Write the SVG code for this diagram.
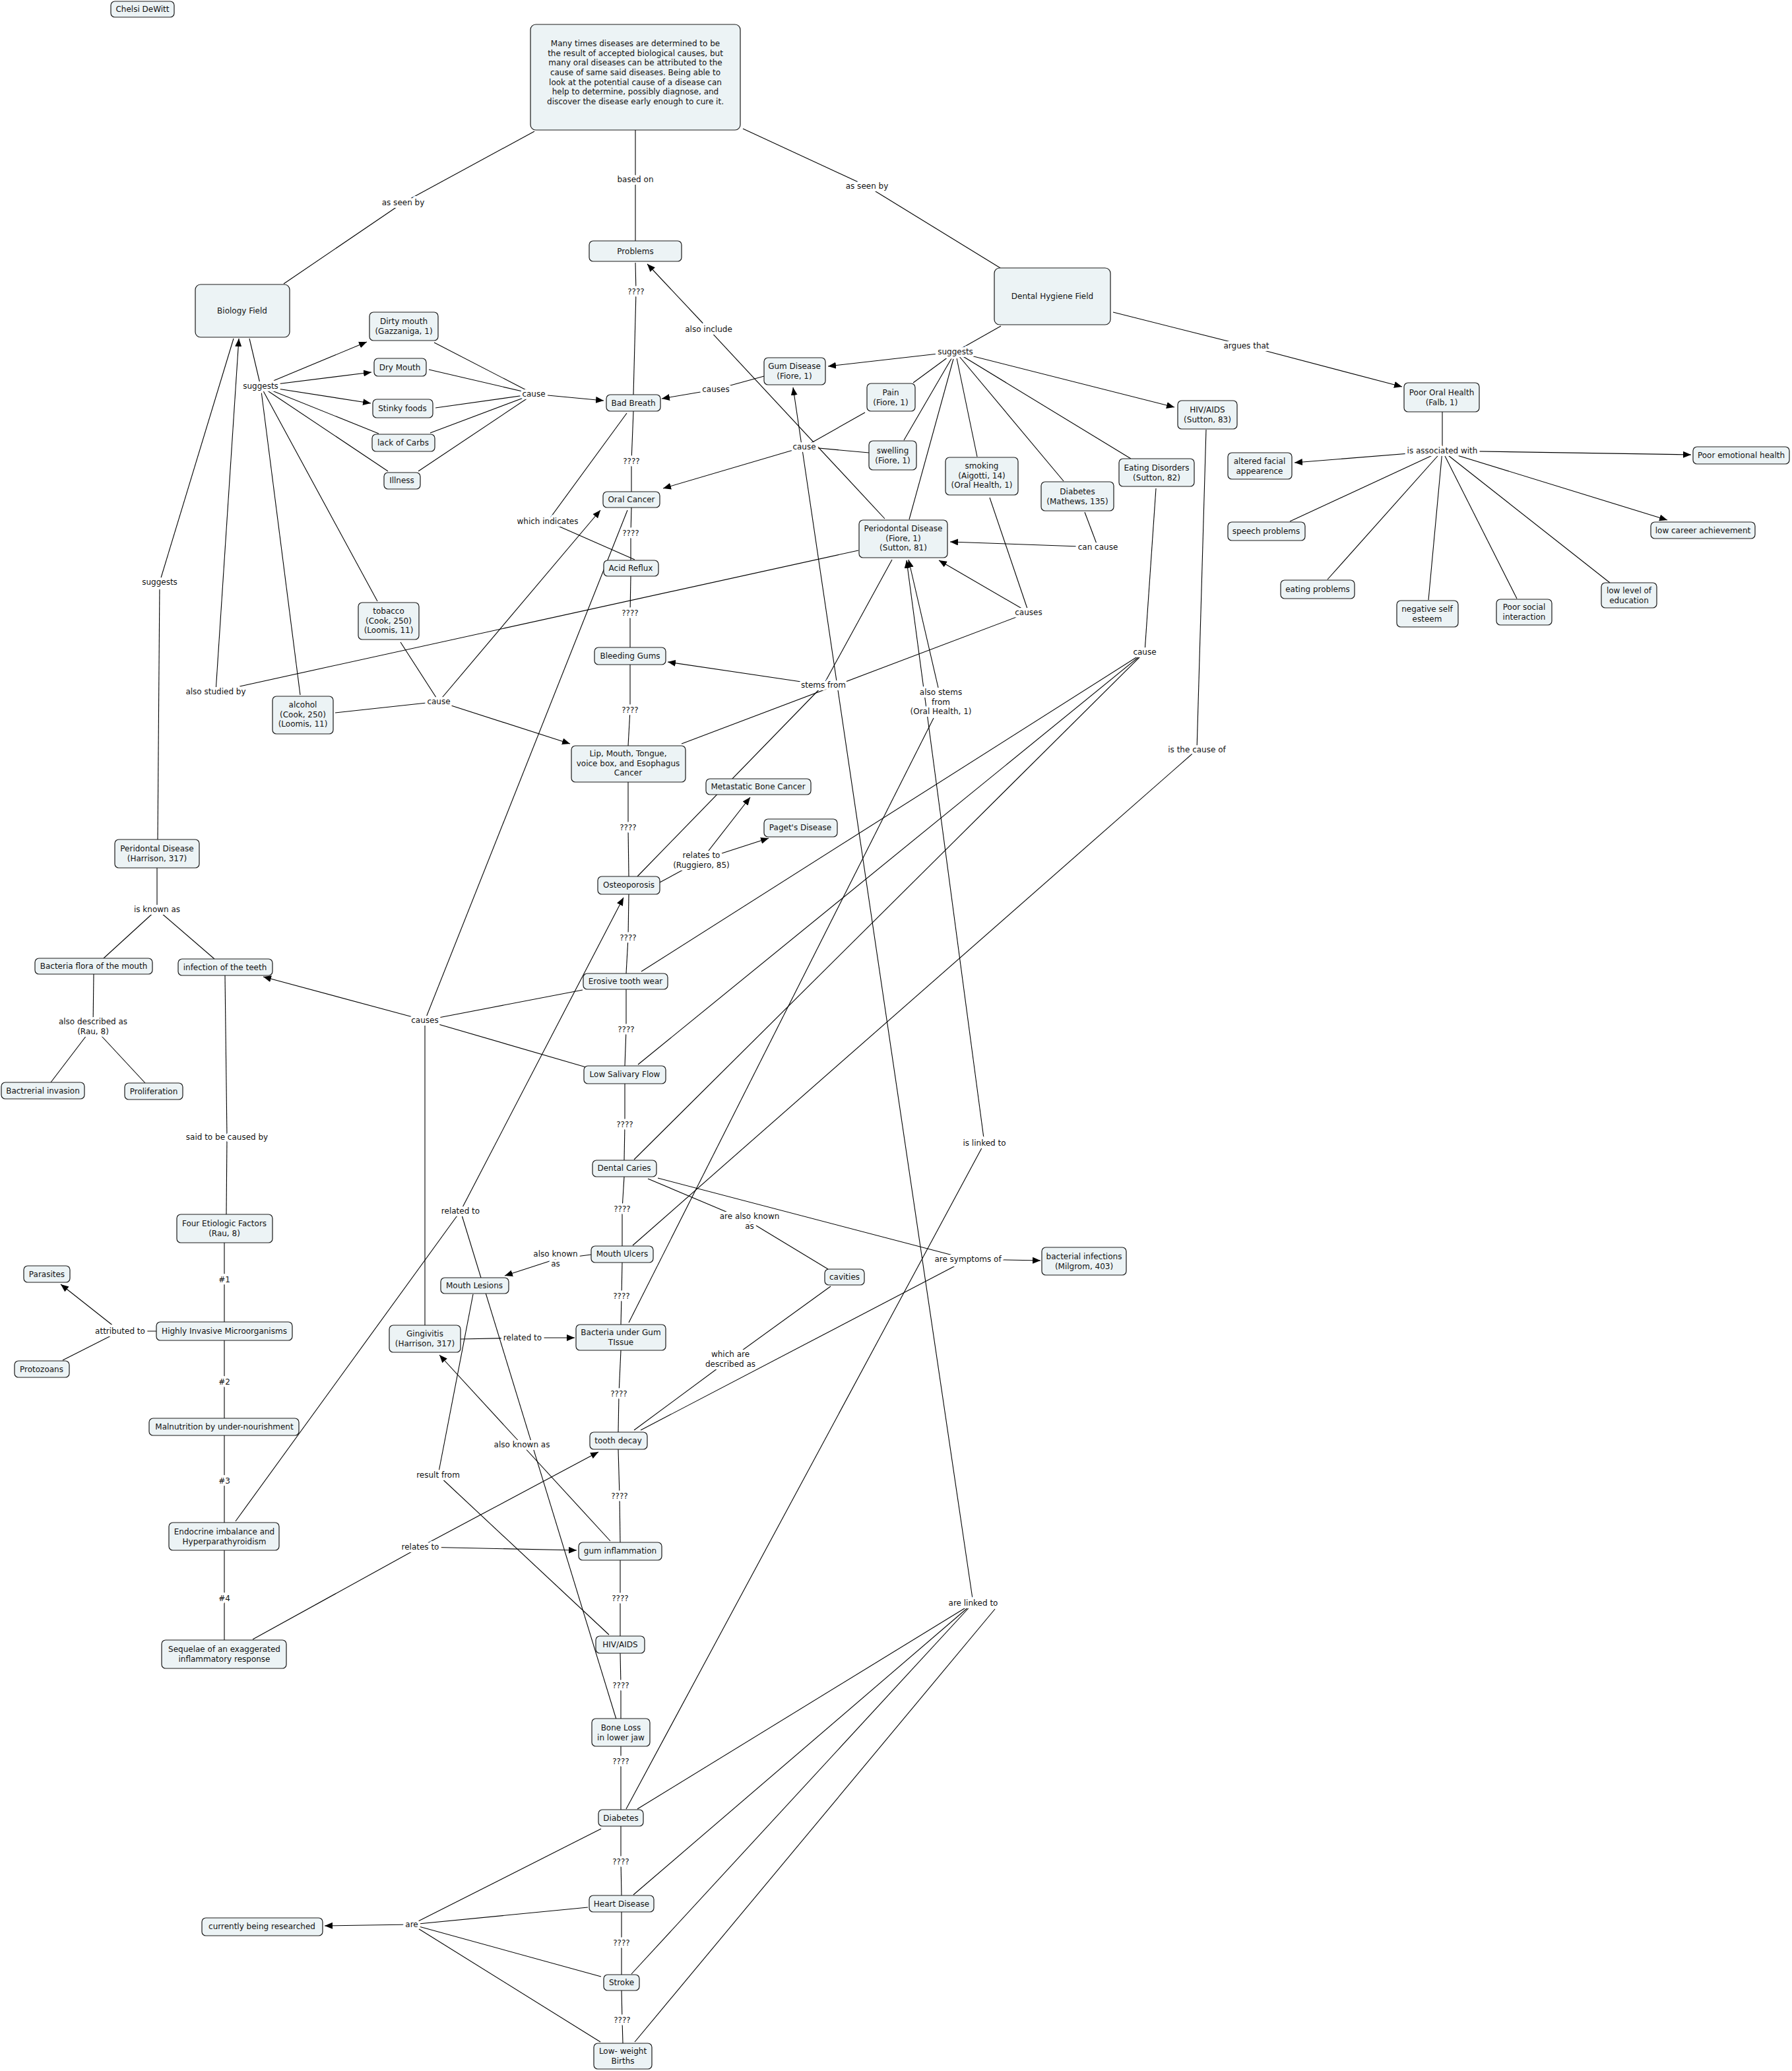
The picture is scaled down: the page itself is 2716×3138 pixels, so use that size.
<svg xmlns="http://www.w3.org/2000/svg" width="2716" height="3138" viewBox="0 0 2716 3138">
<defs>
<style>
.bg{fill:#ffffff}
.n rect{fill:#ecf3f5;stroke:#1a1a1a;stroke-width:1.2}
text{font-family:"DejaVu Sans",Verdana,"Liberation Sans",sans-serif;font-size:12px;fill:#111;text-anchor:middle}
.lbl text{paint-order:stroke;stroke:#fff;stroke-width:8px;stroke-linejoin:round}
.c path{stroke:#000;stroke-width:1.1;fill:none}
.c path.a{marker-end:url(#arr)}
</style>
<marker id="arr" viewBox="0 0 12 10" refX="12" refY="5" markerWidth="12" markerHeight="10" markerUnits="userSpaceOnUse" orient="auto">
<path d="M0,0 L12,5 L0,10 z" fill="#000"/>
</marker>
</defs>
<rect class="bg" x="0" y="0" width="2716" height="3138"/>
<g id="connectors" class="c">
<path d="M810,199 L611,307"/>
<path d="M611,307 L430,430"/>
<path d="M963,197 L963,272"/>
<path d="M963,272 L963,365"/>
<path d="M1126,195 L1314,282"/>
<path d="M1314,282 L1516,406"/>
<path d="M378,513 L395,585"/>
<path d="M395,585 L574,657"/>
<path d="M395,585 L588,714"/>
<path d="M395,585 L572,911"/>
<path d="M395,585 L455,1053"/>
<path d="M658,519 L809,597"/>
<path d="M650,560 L809,597"/>
<path d="M660,618 L809,597"/>
<path d="M652,656 L809,597"/>
<path d="M634,714 L809,597"/>
<path d="M963,398 L964,442"/>
<path d="M964,442 L960,598"/>
<path d="M1158,570 L1085,590"/>
<path d="M1341,786 L1074,499"/>
<path d="M1517,494 L1448,533"/>
<path d="M1448,533 L1384,580"/>
<path d="M1448,533 L1370,667"/>
<path d="M1448,533 L1378,787"/>
<path d="M1448,533 L1481,692"/>
<path d="M1448,533 L1612,729"/>
<path d="M1448,533 L1714,695"/>
<path d="M1687,473 L1889,524"/>
<path d="M2186,624 L2186,683"/>
<path d="M2186,683 L1955,790"/>
<path d="M2186,683 L2012,878"/>
<path d="M2186,683 L2165,909"/>
<path d="M2186,683 L2299,907"/>
<path d="M2186,683 L2440,883"/>
<path d="M1311,625 L1219,677"/>
<path d="M1317,686 L1219,677"/>
<path d="M960,623 L957,699"/>
<path d="M957,699 L957,745"/>
<path d="M950,626 L830,790"/>
<path d="M830,790 L962,848"/>
<path d="M957,769 L956,808"/>
<path d="M956,808 L956,849"/>
<path d="M1644,776 L1664,829"/>
<path d="M1500,754 L1559,928"/>
<path d="M1559,928 L1033,1127"/>
<path d="M956,873 L955,929"/>
<path d="M955,929 L955,981"/>
<path d="M1752,740 L1735,988"/>
<path d="M1735,988 L972,1472"/>
<path d="M1735,988 L967,1613"/>
<path d="M1735,988 L961,1757"/>
<path d="M1352,848 L1248,1038"/>
<path d="M966,1328 L1248,1038"/>
<path d="M953,2004 L1415,1088"/>
<path d="M949,2741 L1492,1732"/>
<path d="M955,1007 L955,1076"/>
<path d="M955,1076 L952,1130"/>
<path d="M354,513 L242,882"/>
<path d="M242,882 L239,1272"/>
<path d="M1301,834 L327,1048"/>
<path d="M607,973 L665,1063"/>
<path d="M508,1080 L665,1063"/>
<path d="M1828,651 L1814,1136"/>
<path d="M1814,1136 L959,1887"/>
<path d="M952,1185 L952,1254"/>
<path d="M952,1254 L953,1328"/>
<path d="M1000,1337 L1063,1303"/>
<path d="M238,1315 L238,1378"/>
<path d="M238,1378 L157,1452"/>
<path d="M238,1378 L325,1453"/>
<path d="M953,1355 L952,1421"/>
<path d="M952,1421 L949,1475"/>
<path d="M883,1500 L644,1546"/>
<path d="M888,1617 L644,1546"/>
<path d="M951,773 L644,1546"/>
<path d="M644,1546 L644,2008"/>
<path d="M142,1476 L141,1556"/>
<path d="M141,1556 L77,1640"/>
<path d="M141,1556 L220,1641"/>
<path d="M949,1499 L949,1560"/>
<path d="M949,1560 L947,1615"/>
<path d="M947,1642 L947,1704"/>
<path d="M947,1704 L946,1758"/>
<path d="M341,1478 L344,1723"/>
<path d="M344,1723 L343,1840"/>
<path d="M357,2305 L698,1835"/>
<path d="M698,1835 L934,2605"/>
<path d="M946,1783 L943,1832"/>
<path d="M943,1832 L943,1888"/>
<path d="M982,1786 L1136,1851"/>
<path d="M1136,1851 L1255,1923"/>
<path d="M997,1785 L1467,1908"/>
<path d="M971,2167 L1467,1908"/>
<path d="M896,1901 L842,1908"/>
<path d="M340,1883 L340,1939"/>
<path d="M340,1939 L340,2003"/>
<path d="M943,1913 L942,1964"/>
<path d="M942,1964 L941,2007"/>
<path d="M237,2017 L182,2017"/>
<path d="M182,2017 L95,2061"/>
<path d="M698,2029 L792,2027"/>
<path d="M1259,1949 L1107,2059"/>
<path d="M1107,2059 L961,2167"/>
<path d="M340,2031 L340,2094"/>
<path d="M340,2094 L340,2149"/>
<path d="M941,2046 L938,2112"/>
<path d="M938,2112 L937,2170"/>
<path d="M925,2335 L791,2189"/>
<path d="M717,1961 L664,2235"/>
<path d="M664,2235 L923,2477"/>
<path d="M340,2175 L340,2244"/>
<path d="M340,2244 L340,2307"/>
<path d="M937,2196 L939,2267"/>
<path d="M939,2267 L940,2337"/>
<path d="M383,2484 L637,2344"/>
<path d="M340,2349 L340,2422"/>
<path d="M340,2422 L340,2485"/>
<path d="M940,2364 L940,2422"/>
<path d="M940,2422 L940,2479"/>
<path d="M966,2741 L1475,2429"/>
<path d="M960,2871 L1475,2429"/>
<path d="M957,2991 L1475,2429"/>
<path d="M962,3094 L1508,2438"/>
<path d="M940,2505 L941,2554"/>
<path d="M941,2554 L941,2604"/>
<path d="M941,2646 L941,2669"/>
<path d="M941,2669 L941,2742"/>
<path d="M941,2767 L941,2821"/>
<path d="M941,2821 L942,2872"/>
<path d="M911,2771 L624,2916"/>
<path d="M891,2890 L624,2916"/>
<path d="M911,2995 L624,2916"/>
<path d="M910,3094 L624,2916"/>
<path d="M942,2897 L942,2944"/>
<path d="M942,2944 L942,2992"/>
<path d="M942,3016 L943,3061"/>
<path d="M943,3061 L944,3096"/>
<path class="a" d="M395,585 L556,518"/>
<path class="a" d="M395,585 L563,564"/>
<path class="a" d="M395,585 L562,611"/>
<path class="a" d="M809,597 L915,607"/>
<path class="a" d="M1085,590 L1003,604"/>
<path class="a" d="M1074,499 L981,400"/>
<path class="a" d="M1448,533 L1255,555"/>
<path class="a" d="M1448,533 L1780,617"/>
<path class="a" d="M1889,524 L2125,586"/>
<path class="a" d="M2186,683 L1962,701"/>
<path class="a" d="M2186,683 L2563,689"/>
<path class="a" d="M2186,683 L2527,788"/>
<path class="a" d="M1219,677 L1005,740"/>
<path class="a" d="M1664,829 L1440,821"/>
<path class="a" d="M1559,928 L1423,849"/>
<path class="a" d="M1248,1038 L1012,1003"/>
<path class="a" d="M1422,1042 L1377,848"/>
<path class="a" d="M1492,1732 L1374,849"/>
<path class="a" d="M327,1048 L362,513"/>
<path class="a" d="M665,1063 L910,773"/>
<path class="a" d="M665,1063 L864,1127"/>
<path class="a" d="M1063,1303 L1137,1208"/>
<path class="a" d="M1063,1303 L1165,1270"/>
<path class="a" d="M644,1546 L399,1480"/>
<path class="a" d="M698,1835 L945,1360"/>
<path class="a" d="M1467,1908 L1577,1910"/>
<path class="a" d="M842,1908 L765,1933"/>
<path class="a" d="M182,2017 L92,1946"/>
<path class="a" d="M792,2027 L871,2027"/>
<path class="a" d="M791,2189 L666,2053"/>
<path class="a" d="M637,2344 L907,2200"/>
<path class="a" d="M637,2344 L874,2349"/>
<path class="a" d="M1475,2429 L1202,587"/>
<path class="a" d="M624,2916 L492,2918"/>
</g>
<g id="labels" class="lbl">
<text x="611" y="311">as seen by</text>
<text x="963" y="276">based on</text>
<text x="1314" y="286">as seen by</text>
<text x="964" y="446">????</text>
<text x="395" y="589">suggests</text>
<text x="809" y="601">cause</text>
<text x="1085" y="594">causes</text>
<text x="1074" y="503">also include</text>
<text x="1448" y="537">suggests</text>
<text x="1889" y="528">argues that</text>
<text x="2186" y="687">is associated with</text>
<text x="1219" y="681">cause</text>
<text x="957" y="703">????</text>
<text x="830" y="794">which indicates</text>
<text x="956" y="812">????</text>
<text x="1664" y="833">can cause</text>
<text x="1559" y="932">causes</text>
<text x="955" y="933">????</text>
<text x="1735" y="992">cause</text>
<text x="1248" y="1042">stems from</text>
<text x="1426" y="1053"><tspan x="1426">also stems</tspan><tspan x="1426" dy="14.7">from</tspan><tspan x="1426" dy="14.7">(Oral Health, 1)</tspan></text>
<text x="955" y="1080">????</text>
<text x="242" y="886">suggests</text>
<text x="327" y="1052">also studied by</text>
<text x="665" y="1067">cause</text>
<text x="1814" y="1140">is the cause of</text>
<text x="952" y="1258">????</text>
<text x="1063" y="1300"><tspan x="1063">relates to</tspan><tspan x="1063" dy="14.7">(Ruggiero, 85)</tspan></text>
<text x="238" y="1382">is known as</text>
<text x="952" y="1425">????</text>
<text x="644" y="1550">causes</text>
<text x="141" y="1552"><tspan x="141">also described as</tspan><tspan x="141" dy="14.7">(Rau, 8)</tspan></text>
<text x="949" y="1564">????</text>
<text x="947" y="1708">????</text>
<text x="344" y="1727">said to be caused by</text>
<text x="1492" y="1736">is linked to</text>
<text x="698" y="1839">related to</text>
<text x="943" y="1836">????</text>
<text x="1136" y="1847"><tspan x="1136">are also known</tspan><tspan x="1136" dy="15">as</tspan></text>
<text x="842" y="1904"><tspan x="842">also known</tspan><tspan x="842" dy="15">as</tspan></text>
<text x="1467" y="1912">are symptoms of</text>
<text x="340" y="1943">#1</text>
<text x="942" y="1968">????</text>
<text x="182" y="2021">attributed to</text>
<text x="792" y="2031">related to</text>
<text x="1107" y="2056"><tspan x="1107">which are</tspan><tspan x="1107" dy="14.7">described as</tspan></text>
<text x="340" y="2098">#2</text>
<text x="938" y="2116">????</text>
<text x="791" y="2193">also known as</text>
<text x="664" y="2239">result from</text>
<text x="340" y="2248">#3</text>
<text x="939" y="2271">????</text>
<text x="637" y="2348">relates to</text>
<text x="340" y="2426">#4</text>
<text x="940" y="2426">????</text>
<text x="1475" y="2433">are linked to</text>
<text x="941" y="2558">????</text>
<text x="941" y="2673">????</text>
<text x="941" y="2825">????</text>
<text x="624" y="2920">are</text>
<text x="942" y="2948">????</text>
<text x="943" y="3065">????</text>
</g>
<g id="n-chelsi" class="n"><rect x="168" y="2" width="96" height="24" rx="6"/><text x="216" y="18">Chelsi DeWitt</text></g>
<g id="n-main" class="n"><rect x="804" y="37" width="318" height="160" rx="8"/><text x="963" y="70"><tspan x="963">Many times diseases are determined to be</tspan><tspan x="963" dy="14.67">the result of accepted biological causes, but</tspan><tspan x="963" dy="14.67">many oral diseases can be attributed to the</tspan><tspan x="963" dy="14.67">cause of same said diseases. Being able to</tspan><tspan x="963" dy="14.67">look at the potential cause of a disease can</tspan><tspan x="963" dy="14.67">help to determine, possibly diagnose, and</tspan><tspan x="963" dy="14.67">discover the disease early enough to cure it.</tspan></text></g>
<g id="n-problems" class="n"><rect x="893" y="365" width="140" height="31" rx="6"/><text x="963" y="385">Problems</text></g>
<g id="n-biology" class="n"><rect x="296" y="431" width="143" height="80" rx="8"/><text x="367" y="475">Biology Field</text></g>
<g id="n-dental" class="n"><rect x="1507" y="406" width="176" height="86" rx="8"/><text x="1595" y="453">Dental Hygiene Field</text></g>
<g id="n-dirty" class="n"><rect x="560" y="473" width="104" height="43" rx="6"/><text x="612" y="491"><tspan x="612">Dirty mouth</tspan><tspan x="612" dy="14.7">(Gazzaniga, 1)</tspan></text></g>
<g id="n-dry" class="n"><rect x="567" y="543" width="79" height="27" rx="6"/><text x="606" y="561">Dry Mouth</text></g>
<g id="n-stinky" class="n"><rect x="565" y="605" width="91" height="28" rx="6"/><text x="610" y="623">Stinky foods</text></g>
<g id="n-carbs" class="n"><rect x="564" y="658" width="95" height="26" rx="6"/><text x="611" y="675">lack of Carbs</text></g>
<g id="n-illness" class="n"><rect x="582" y="716" width="55" height="25" rx="6"/><text x="609" y="732">Illness</text></g>
<g id="n-badbreath" class="n"><rect x="919" y="598" width="82" height="25" rx="6"/><text x="960" y="615">Bad Breath</text></g>
<g id="n-gumdisease" class="n"><rect x="1158" y="542" width="93" height="41" rx="6"/><text x="1204" y="559"><tspan x="1204">Gum Disease</tspan><tspan x="1204" dy="14.7">(Fiore, 1)</tspan></text></g>
<g id="n-pain" class="n"><rect x="1314" y="581" width="73" height="42" rx="6"/><text x="1350" y="599"><tspan x="1350">Pain</tspan><tspan x="1350" dy="14.7">(Fiore, 1)</tspan></text></g>
<g id="n-swelling" class="n"><rect x="1317" y="668" width="72" height="44" rx="6"/><text x="1353" y="687"><tspan x="1353">swelling</tspan><tspan x="1353" dy="14.7">(Fiore, 1)</tspan></text></g>
<g id="n-smoking" class="n"><rect x="1433" y="693" width="110" height="57" rx="6"/><text x="1488" y="710"><tspan x="1488">smoking</tspan><tspan x="1488" dy="14.7">(Aigotti, 14)</tspan><tspan x="1488" dy="14.7">(Oral Health, 1)</tspan></text></g>
<g id="n-diabetes-m" class="n"><rect x="1578" y="730" width="110" height="44" rx="6"/><text x="1633" y="749"><tspan x="1633">Diabetes</tspan><tspan x="1633" dy="14.7">(Mathews, 135)</tspan></text></g>
<g id="n-eating" class="n"><rect x="1696" y="695" width="114" height="42" rx="6"/><text x="1753" y="713"><tspan x="1753">Eating Disorders</tspan><tspan x="1753" dy="14.7">(Sutton, 82)</tspan></text></g>
<g id="n-hiv-s" class="n"><rect x="1785" y="607" width="90" height="43" rx="6"/><text x="1830" y="625"><tspan x="1830">HIV/AIDS</tspan><tspan x="1830" dy="14.7">(Sutton, 83)</tspan></text></g>
<g id="n-poororal" class="n"><rect x="2128" y="580" width="114" height="44" rx="6"/><text x="2185" y="599"><tspan x="2185">Poor Oral Health</tspan><tspan x="2185" dy="14.7">(Falb, 1)</tspan></text></g>
<g id="n-altered" class="n"><rect x="1861" y="686" width="97" height="40" rx="6"/><text x="1909" y="703"><tspan x="1909">altered facial</tspan><tspan x="1909" dy="14.7">appearence</tspan></text></g>
<g id="n-emotional" class="n"><rect x="2566" y="677" width="146" height="26" rx="6"/><text x="2639" y="694">Poor emotional health</text></g>
<g id="n-speech" class="n"><rect x="1861" y="791" width="117" height="28" rx="6"/><text x="1919" y="809">speech problems</text></g>
<g id="n-eatingprob" class="n"><rect x="1941" y="879" width="112" height="28" rx="6"/><text x="1997" y="897">eating problems</text></g>
<g id="n-negative" class="n"><rect x="2117" y="910" width="93" height="40" rx="6"/><text x="2163" y="927"><tspan x="2163">negative self</tspan><tspan x="2163" dy="14.7">esteem</tspan></text></g>
<g id="n-social" class="n"><rect x="2268" y="908" width="84" height="39" rx="6"/><text x="2310" y="924"><tspan x="2310">Poor social</tspan><tspan x="2310" dy="14.7">interaction</tspan></text></g>
<g id="n-education" class="n"><rect x="2427" y="883" width="84" height="38" rx="6"/><text x="2469" y="899"><tspan x="2469">low level of</tspan><tspan x="2469" dy="14.7">education</tspan></text></g>
<g id="n-career" class="n"><rect x="2502" y="791" width="158" height="25" rx="6"/><text x="2581" y="808">low career achievement</text></g>
<g id="n-oralcancer" class="n"><rect x="914" y="745" width="86" height="24" rx="6"/><text x="957" y="761">Oral Cancer</text></g>
<g id="n-acidreflux" class="n"><rect x="915" y="849" width="83" height="24" rx="6"/><text x="956" y="865">Acid Reflux</text></g>
<g id="n-bleeding" class="n"><rect x="901" y="981" width="108" height="26" rx="6"/><text x="955" y="998">Bleeding Gums</text></g>
<g id="n-lip" class="n"><rect x="866" y="1130" width="173" height="55" rx="6"/><text x="952" y="1146"><tspan x="952">Lip, Mouth, Tongue,</tspan><tspan x="952" dy="14.7">voice box, and Esophagus</tspan><tspan x="952" dy="14.7">Cancer</tspan></text></g>
<g id="n-metastatic" class="n"><rect x="1070" y="1180" width="159" height="24" rx="6"/><text x="1149" y="1196">Metastatic Bone Cancer</text></g>
<g id="n-paget" class="n"><rect x="1158" y="1241" width="111" height="27" rx="6"/><text x="1213" y="1258">Paget's Disease</text></g>
<g id="n-osteoporosis" class="n"><rect x="906" y="1328" width="94" height="27" rx="6"/><text x="953" y="1345">Osteoporosis</text></g>
<g id="n-erosive" class="n"><rect x="884" y="1475" width="128" height="24" rx="6"/><text x="948" y="1491">Erosive tooth wear</text></g>
<g id="n-lowsalivary" class="n"><rect x="885" y="1615" width="124" height="27" rx="6"/><text x="947" y="1632">Low Salivary Flow</text></g>
<g id="n-caries" class="n"><rect x="898" y="1758" width="97" height="25" rx="6"/><text x="946" y="1774">Dental Caries</text></g>
<g id="n-ulcers" class="n"><rect x="896" y="1888" width="94" height="25" rx="6"/><text x="943" y="1904">Mouth Ulcers</text></g>
<g id="n-bacteriagum" class="n"><rect x="873" y="2007" width="136" height="39" rx="6"/><text x="941" y="2023"><tspan x="941">Bacteria under Gum</tspan><tspan x="941" dy="14.7">TIssue</tspan></text></g>
<g id="n-toothdecay" class="n"><rect x="894" y="2170" width="87" height="26" rx="6"/><text x="937" y="2187">tooth decay</text></g>
<g id="n-guminfl" class="n"><rect x="877" y="2337" width="126" height="27" rx="6"/><text x="940" y="2354">gum inflammation</text></g>
<g id="n-hiv" class="n"><rect x="903" y="2479" width="74" height="26" rx="6"/><text x="940" y="2496">HIV/AIDS</text></g>
<g id="n-boneloss" class="n"><rect x="897" y="2604" width="88" height="42" rx="6"/><text x="941" y="2622"><tspan x="941">Bone Loss</tspan><tspan x="941" dy="14.7">in lower jaw</tspan></text></g>
<g id="n-diabetes" class="n"><rect x="907" y="2742" width="68" height="25" rx="6"/><text x="941" y="2759">Diabetes</text></g>
<g id="n-heart" class="n"><rect x="893" y="2872" width="98" height="25" rx="6"/><text x="942" y="2889">Heart Disease</text></g>
<g id="n-stroke" class="n"><rect x="915" y="2992" width="54" height="24" rx="6"/><text x="942" y="3008">Stroke</text></g>
<g id="n-lowweight" class="n"><rect x="900" y="3096" width="88" height="39" rx="6"/><text x="944" y="3112"><tspan x="944">Low- weight</tspan><tspan x="944" dy="14.7">Births</tspan></text></g>
<g id="n-research" class="n"><rect x="306" y="2906" width="183" height="27" rx="6"/><text x="397" y="2923">currently being researched</text></g>
<g id="n-tobacco" class="n"><rect x="543" y="913" width="92" height="56" rx="6"/><text x="589" y="930"><tspan x="589">tobacco</tspan><tspan x="589" dy="14.7">(Cook, 250)</tspan><tspan x="589" dy="14.7">(Loomis, 11)</tspan></text></g>
<g id="n-alcohol" class="n"><rect x="413" y="1055" width="92" height="57" rx="6"/><text x="459" y="1072"><tspan x="459">alcohol</tspan><tspan x="459" dy="14.7">(Cook, 250)</tspan><tspan x="459" dy="14.7">(Loomis, 11)</tspan></text></g>
<g id="n-periofiore" class="n"><rect x="1302" y="788" width="134" height="57" rx="6"/><text x="1369" y="805"><tspan x="1369">Periodontal Disease</tspan><tspan x="1369" dy="14.7">(Fiore, 1)</tspan><tspan x="1369" dy="14.7">(Sutton, 81)</tspan></text></g>
<g id="n-periharrison" class="n"><rect x="174" y="1272" width="128" height="43" rx="6"/><text x="238" y="1290"><tspan x="238">Peridontal Disease</tspan><tspan x="238" dy="14.7">(Harrison, 317)</tspan></text></g>
<g id="n-flora" class="n"><rect x="53" y="1452" width="178" height="24" rx="6"/><text x="142" y="1468">Bacteria flora of the mouth</text></g>
<g id="n-infection" class="n"><rect x="270" y="1453" width="143" height="25" rx="6"/><text x="341" y="1470">infection of the teeth</text></g>
<g id="n-bactinv" class="n"><rect x="2" y="1640" width="126" height="25" rx="6"/><text x="65" y="1657">Bactrerial invasion</text></g>
<g id="n-prolif" class="n"><rect x="189" y="1641" width="88" height="25" rx="6"/><text x="233" y="1658">Proliferation</text></g>
<g id="n-four" class="n"><rect x="268" y="1840" width="145" height="43" rx="6"/><text x="340" y="1858"><tspan x="340">Four Etiologic Factors</tspan><tspan x="340" dy="14.7">(Rau, 8)</tspan></text></g>
<g id="n-parasites" class="n"><rect x="36" y="1918" width="70" height="25" rx="6"/><text x="71" y="1935">Parasites</text></g>
<g id="n-protozoans" class="n"><rect x="22" y="2062" width="83" height="25" rx="6"/><text x="63" y="2079">Protozoans</text></g>
<g id="n-highly" class="n"><rect x="237" y="2003" width="206" height="28" rx="6"/><text x="340" y="2021">Highly Invasive Microorganisms</text></g>
<g id="n-malnutrition" class="n"><rect x="226" y="2149" width="227" height="26" rx="6"/><text x="340" y="2166">Malnutrition by under-nourishment</text></g>
<g id="n-endocrine" class="n"><rect x="256" y="2307" width="167" height="42" rx="6"/><text x="340" y="2325"><tspan x="340">Endocrine imbalance and</tspan><tspan x="340" dy="14.7">Hyperparathyroidism</tspan></text></g>
<g id="n-sequelae" class="n"><rect x="245" y="2485" width="189" height="43" rx="6"/><text x="340" y="2503"><tspan x="340">Sequelae of an exaggerated</tspan><tspan x="340" dy="14.7">inflammatory response</tspan></text></g>
<g id="n-lesions" class="n"><rect x="668" y="1936" width="103" height="24" rx="6"/><text x="719" y="1952">Mouth Lesions</text></g>
<g id="n-gingivitis" class="n"><rect x="590" y="2008" width="108" height="41" rx="6"/><text x="644" y="2025"><tspan x="644">Gingivitis</tspan><tspan x="644" dy="14.7">(Harrison, 317)</tspan></text></g>
<g id="n-cavities" class="n"><rect x="1250" y="1923" width="60" height="24" rx="6"/><text x="1280" y="1939">cavities</text></g>
<g id="n-bactinf" class="n"><rect x="1579" y="1890" width="128" height="42" rx="6"/><text x="1643" y="1908"><tspan x="1643">bacterial infections</tspan><tspan x="1643" dy="14.7">(Milgrom, 403)</tspan></text></g>
</svg>
